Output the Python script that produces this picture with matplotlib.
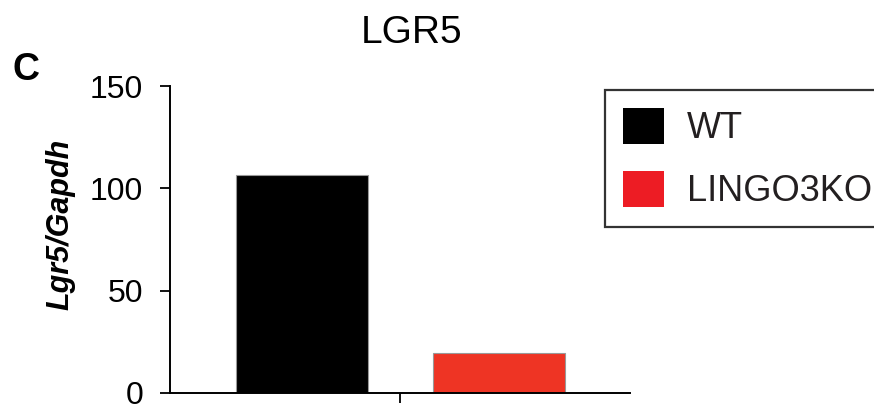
import matplotlib
matplotlib.use("Agg")
import matplotlib.pyplot as plt
from matplotlib.patches import Patch

# data
groups = ["WT", "LINGO3KO"]
values = [106.5, 19.4]
bar_colors = ["#000000", "#EE3424"]
legend_colors = ["#000000", "#ED1C24"]
yticks = [0, 50, 100, 150]

plt.rcParams['font.family'] = ['Liberation Sans', 'DejaVu Sans']

fig = plt.figure(figsize=(8.74, 4.04), dpi=100)
ax = fig.add_axes([170 / 874, 1 - 393 / 404, 460 / 874, 307 / 404])

ax.bar([0, 1], values, width=0.67, color=bar_colors,
       edgecolor="#999999", linewidth=0.8)

ax.set_ylim(0, 150)
ax.set_xlim(-0.67, 1.665)
ax.set_yticks(yticks)
ax.set_xticks([0.5])
ax.set_xticklabels([""])
ax.tick_params(axis='y', labelsize=23, length=7.2, width=1.3, pad=12)
ax.tick_params(axis='x', length=7.2, width=1.3)

for s in ["top", "right"]:
    ax.spines[s].set_visible(False)
for s in ["left", "bottom"]:
    ax.spines[s].set_linewidth(1.4)

fig.text(60 / 874, 1 - 224 / 404, "Lgr5/Gapdh", rotation=90,
         fontsize=22, fontweight='bold', fontstyle='italic',
         ha='center', va='center')
fig.text(412 / 874, 1 - 33 / 404, "LGR5", fontsize=28,
         ha='center', va='center')
fig.text(26 / 874, 1 - 70 / 404, "C", fontsize=27, fontweight='bold',
         ha='center', va='center')

handles = [Patch(facecolor=c, edgecolor='none') for c in legend_colors]
leg = ax.legend(handles, groups, loc='upper left',
                bbox_to_anchor=(605 / 874, 1 - 90 / 404),
                bbox_transform=fig.transFigure, borderaxespad=0,
                fontsize=26, handlelength=1.14, handleheight=1.14,
                handletextpad=0.64, labelspacing=0.69, borderpad=0.5,
                fancybox=False, framealpha=1)
leg.get_frame().set_edgecolor("#333333")
leg.get_frame().set_linewidth(1.6)
for t in leg.get_texts():
    t.set_color("#231F20")

fig.savefig("out.png", dpi=100)
